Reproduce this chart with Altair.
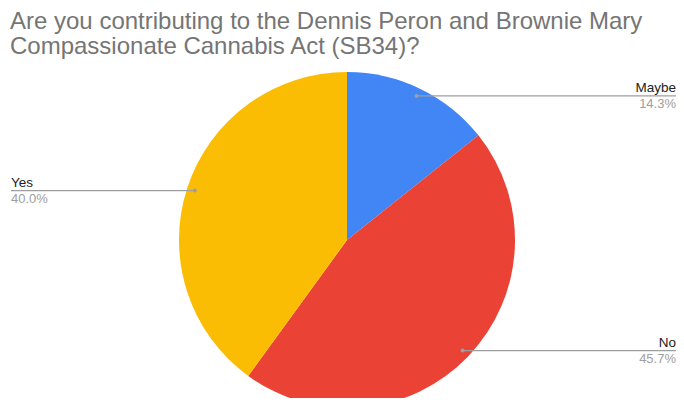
import altair as alt
import pandas as pd

categories = ["Maybe", "No", "Yes"]
values = [14.3, 45.7, 40.0]
pct_labels = ["14.3%", "45.7%", "40.0%"]
order = [0, 1, 2]
colors = ["#4285F4", "#EA4335", "#FBBC04"]
title_lines = ["Are you contributing to the Dennis Peron and Brownie Mary",
               "Compassionate Cannabis Act (SB34)?"]

TOP = 60
W, H = 668, 390 - TOP
CX, CY, R = 339, 232 - TOP, 168
RD = 160  # radius of leader-line dots

df = pd.DataFrame({"category": categories, "value": values,
                   "pct": pct_labels, "order": order})

base = alt.Chart(df)

arcs = base.mark_arc(radius=R, stroke=None).encode(
    theta=alt.Theta("value:Q", stack=True),
    color=alt.Color("category:N", scale=alt.Scale(domain=categories, range=colors), legend=None),
    order=alt.Order("order:Q"),
    x=alt.value(CX), y=alt.value(CY),
)

geo = base.transform_window(
    cum="sum(value)", sort=[alt.SortField("order")], frame=[None, 0]
).transform_joinaggregate(
    total="sum(value)"
).transform_calculate(
    ang="2*PI*(datum.cum - datum.value/2)/datum.total"
).transform_calculate(
    px=f"{CX} + {RD}*sin(datum.ang)",
    py=f"{CY} - {RD}*cos(datum.ang)",
).transform_calculate(
    right="datum.px > " + str(CX),
).transform_calculate(
    lx=f"datum.right ? {W} : 3",
)

xs = lambda f: alt.X(f + ":Q", scale=None, axis=None)
ys = lambda f: alt.Y(f + ":Q", scale=None, axis=None)

lines = geo.mark_rule(color="#9e9e9e", strokeWidth=1.3).encode(
    x=xs("px"), x2="lx:Q", y=ys("py"))
dots = geo.mark_circle(color="#9e9e9e", opacity=1, size=16).encode(
    x=xs("px"), y=ys("py"))

font = "Liberation Sans"
def labels(cond, align, x_field):
    g = geo.transform_filter(cond)
    name = g.mark_text(align=align, baseline="alphabetic", dy=-4, fontSize=13.5,
                       font=font, color="#222222").encode(
        x=xs(x_field), y=ys("py"), text="category:N")
    pct = g.mark_text(align=align, baseline="alphabetic", dy=12, fontSize=13,
                      font=font, color="#9e9e9e").encode(
        x=xs(x_field), y=ys("py"), text="pct:N")
    return name + pct

right_labels = labels("datum.right", "right", "lx")
left_labels = labels("!datum.right", "left", "lx")

chart = alt.layer(arcs, lines, dots, right_labels, left_labels).properties(
    width=W, height=H,
    autosize=alt.AutoSizeParams(type="none"),
    padding={"top": TOP, "left": 0, "right": 0, "bottom": 0},
    title=alt.TitleParams(text=title_lines, anchor="start", orient="top",
                          fontSize=24, font=font, fontWeight="normal",
                          color="#757575", baseline="bottom", offset=11,
                          lineHeight=25, dx=2, dy=26),
).configure_view(stroke=None)

chart.save("out.html", embed_options={"renderer": "svg", "actions": False})
